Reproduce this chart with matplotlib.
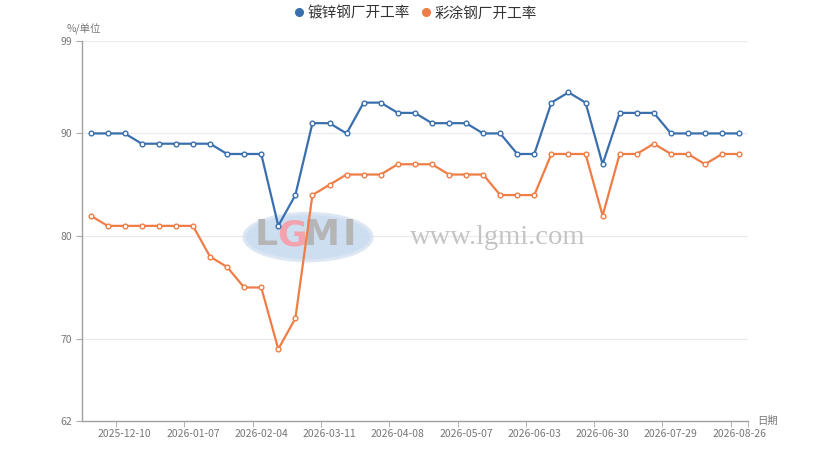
import matplotlib
matplotlib.use('Agg')
import matplotlib.pyplot as plt
from matplotlib.lines import Line2D
from matplotlib.patches import Ellipse
import numpy as np

plt.rcParams['font.family'] = ['Noto Sans CJK SC', 'DejaVu Sans']

dates = ['2025-11-26', '2025-12-03', '2025-12-10', '2025-12-17', '2025-12-24', '2025-12-31',
         '2026-01-07', '2026-01-14', '2026-01-21', '2026-01-28', '2026-02-04', '2026-02-11',
         '2026-02-25', '2026-03-04', '2026-03-11', '2026-03-18', '2026-03-25', '2026-04-01',
         '2026-04-08', '2026-04-15', '2026-04-22', '2026-04-29', '2026-05-07', '2026-05-13',
         '2026-05-20', '2026-05-27', '2026-06-03', '2026-06-10', '2026-06-17', '2026-06-24',
         '2026-06-30', '2026-07-08', '2026-07-15', '2026-07-22', '2026-07-29', '2026-08-05',
         '2026-08-12', '2026-08-19', '2026-08-26']

galv = [90, 90, 90, 89, 89, 89, 89, 89, 88, 88, 88, 81, 84, 91, 91, 90, 93, 93, 92, 92,
        91, 91, 91, 90, 90, 88, 88, 93, 94, 93, 87, 92, 92, 92, 90, 90, 90, 90, 90]
coated = [82, 81, 81, 81, 81, 81, 81, 78, 77, 75, 75, 69, 72, 84, 85, 86, 86, 86, 87, 87,
          87, 86, 86, 86, 84, 84, 84, 88, 88, 88, 82, 88, 88, 89, 88, 88, 87, 88, 88]

series_names = ['镀锌钢厂开工率', '彩涂钢厂开工率']
colors = ['#3a6fae', '#ef7d45']
yticks = [62, 70, 80, 90, 99]

fig = plt.figure(figsize=(8.31, 4.73), dpi=100)
ax = fig.add_axes([82/831, 1-421/473, 665.7/831, 380/473])

x = np.arange(len(dates))
for vals, c in zip([galv, coated], colors):
    ax.plot(x, vals, color=c, lw=1.6, marker='o', ms=3.4, mfc='white',
            mec=c, mew=1.0, zorder=3)

ax.set_xlim(-0.5, len(dates) - 0.5)
ax.set_ylim(62, 99)

# category axis: label every 4th week, ticks on band boundaries
lab_idx = list(range(2, len(dates), 4))
ax.set_xticks(lab_idx)
ax.set_xticklabels([dates[i] for i in lab_idx])
ax.set_xticks([i - 0.5 for i in lab_idx] + [len(dates) - 0.5], minor=True)
ax.tick_params(axis='x', which='major', length=0, pad=6, labelsize=7.5, labelcolor='#777777')
ax.tick_params(axis='x', which='minor', length=4, color='#aaaaaa', direction='out')

ax.set_yticks(yticks)
ax.tick_params(axis='y', length=4, color='#aaaaaa', labelsize=7.5, labelcolor='#777777', pad=3)

for v in yticks[1:]:
    ax.axhline(v, color='#e8ebf0', lw=0.9, zorder=0)

for s in ['top', 'right']:
    ax.spines[s].set_visible(False)
for s in ['left', 'bottom']:
    ax.spines[s].set_color('#a0a0a0')
    ax.spines[s].set_linewidth(1.0)

# watermark
ax.add_patch(Ellipse((0.3395, 0.484), 0.192, 0.124, transform=ax.transAxes,
                     facecolor='#c4d9ee', edgecolor='#dbe6f2', lw=2.5, alpha=0.85, zorder=1))
for ch, px, col in [('L', 266, '#b5b5b5'), ('G', 292, '#f2a3ad'), ('M', 322, '#b5b5b5'), ('I', 349, '#b5b5b5')]:
    ax.text((px - 82) / 665.7, (421 - 235) / 380, ch, transform=ax.transAxes, ha='center', va='center',
            fontsize=26, fontweight='bold', color=col, family='DejaVu Sans', zorder=1.5)
ax.text((498 - 82) / 665.7, (421 - 237) / 380, 'www.lgmi.com', transform=ax.transAxes,
        ha='center', va='center', fontsize=20.5, color='#c4c4c4', family='Liberation Serif', zorder=1.5)

fig.text(67/831, 1-29/473, '%/单位', fontsize=7.5, color='#777777', ha='left', va='center')
fig.text(757/831, 1-421/473, '日期', fontsize=7.5, color='#777777', ha='left', va='center')

handles = [Line2D([], [], ls='none', marker='o', ms=5.5, color=c) for c in colors]
fig.legend(handles, series_names, loc='upper center', bbox_to_anchor=(0.5, 1.015), ncol=2,
           frameon=False, handlelength=0.6, handletextpad=0.3, columnspacing=0.8,
           prop={'family': ['Noto Sans CJK SC', 'DejaVu Sans'], 'size': 10.5}, labelcolor='#333333')

fig.savefig('out.png', dpi=100)
